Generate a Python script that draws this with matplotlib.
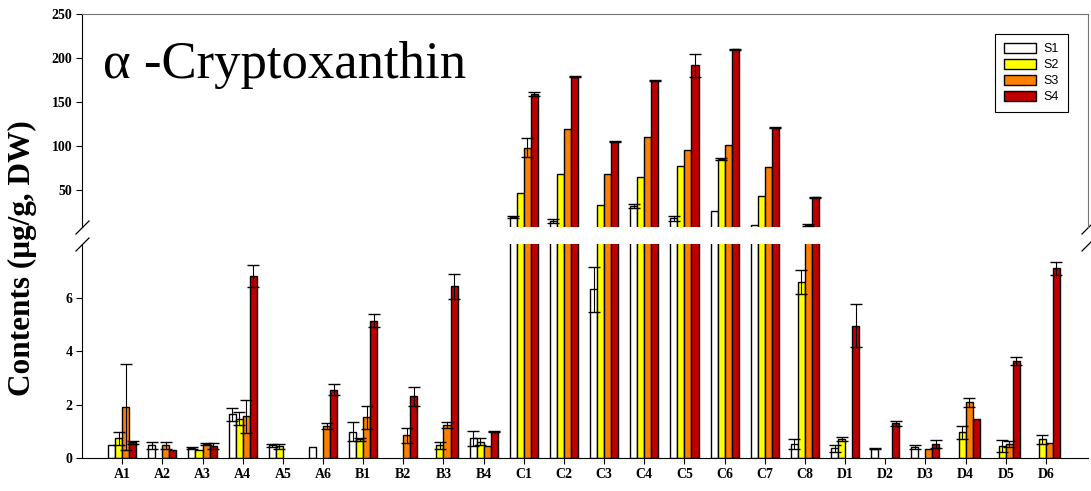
import numpy as np
import matplotlib.pyplot as plt

# Categories and series values (ug/g DW); 0 = not detected
samples = ['A1', 'A2', 'A3', 'A4', 'A5', 'A6', 'B1', 'B2', 'B3', 'B4',
           'C1', 'C2', 'C3', 'C4', 'C5', 'C6', 'C7', 'C8',
           'D1', 'D2', 'D3', 'D4', 'D5', 'D6']
series = ['S1', 'S2', 'S3', 'S4']

s1 = [0.47, 0.47, 0.38, 1.63, 0.47, 0.42, 0.98, 0, 0, 0.73,
      19.5, 15.0, 6.3, 31.8, 17.8, 26.5, 9.8, 0.52,
      0.37, 0.34, 0.42, 0, 0, 0]
s1_err = [0, 0.13, 0.04, 0.24, 0.07, 0, 0.36, 0, 0, 0.27,
          1.0, 2.2, 0.85, 2.5, 2.8, 0, 0, 0.18,
          0.13, 0.02, 0.08, 0, 0, 0]
s2 = [0.74, 0, 0.30, 1.47, 0.44, 0, 0.70, 0, 0.47, 0.61,
      47, 68.5, 33, 65, 77, 85, 43.6, 6.57,
      0.70, 0, 0, 0.96, 0.45, 0.70]
s2_err = [0.24, 0, 0, 0.25, 0.09, 0, 0.05, 0, 0.12, 0.13,
          0, 0, 0, 0, 0, 1.4, 0, 0.45,
          0.07, 0, 0, 0.25, 0.21, 0.17]
s3 = [1.9, 0.47, 0.52, 1.56, 0, 1.19, 1.52, 0.85, 1.24, 0.45,
      98, 119.7, 68, 109.8, 95.5, 101, 75.8, 10.5,
      0, 0, 0.32, 2.09, 0.52, 0.57]
s3_err = [1.6, 0.13, 0.05, 0.61, 0, 0.11, 0.43, 0.29, 0.11, 0,
          10.7, 0, 0, 0, 0, 0, 0, 1.0,
          0, 0, 0, 0.17, 0.12, 0]
s4 = [0.59, 0.30, 0.45, 6.8, 0, 2.56, 5.14, 2.31, 6.42, 0.99,
      159, 178.8, 105, 174, 191.7, 209.8, 120.8, 42,
      4.94, 1.30, 0.51, 1.47, 3.63, 7.1]
s4_err = [0.06, 0, 0.1, 0.4, 0, 0.19, 0.26, 0.36, 0.47, 0.03,
          2.5, 0.5, 0.5, 0.5, 13, 0.8, 0.5, 0.5,
          0.8, 0.1, 0.15, 0, 0.14, 0.24]

values = [s1, s2, s3, s4]
errors = [s1_err, s2_err, s3_err, s4_err]
colors = ['#FFFFFF', '#FFFF00', '#FF8000', '#C00000']

serif = 'Liberation Serif'
low_max, high_max = 8, 250

fig = plt.figure(figsize=(10.91, 4.91), dpi=100)
ax_top = fig.add_axes([0.0752, 0.5377, 0.9221, 0.4338])
ax_bot = fig.add_axes([0.0752, 0.0672, 0.9221, 0.4358])

x = np.arange(len(samples))
w = 0.175
offsets = [-1.5 * w, -0.5 * w, 0.5 * w, 1.5 * w]

for i in range(4):
    v = np.array(values[i], dtype=float)
    e = np.array(errors[i], dtype=float)
    # upper panel: only what rises above the break
    m = v > low_max
    ax_top.bar(x[m] + offsets[i], v[m], width=w, color=colors[i],
               edgecolor='black', linewidth=1.0, label=series[i], zorder=2)
    me = m & (e > 0)
    ax_top.errorbar(x[me] + offsets[i], v[me], yerr=e[me], fmt='none',
                    ecolor='black', elinewidth=0.8, capsize=4, capthick=1.0, zorder=3)
    # lower panel: bars above the break are cut at the panel top
    m = v > 0
    hb = np.minimum(v[m], low_max * 1.05)
    ax_bot.bar(x[m] + offsets[i], hb, width=w, color=colors[i],
               edgecolor='black', linewidth=1.0, zorder=2)
    me = (v > 0) & (v < low_max) & (e > 0)
    ax_bot.errorbar(x[me] + offsets[i], v[me], yerr=e[me], fmt='none',
                    ecolor='black', elinewidth=0.8, capsize=4, capthick=1.0, zorder=3)

for ax in (ax_top, ax_bot):
    ax.set_xlim(-1.0, 24.05)

ax_top.set_ylim(low_max, high_max)
ax_top.set_yticks([50, 100, 150, 200, 250])
ax_bot.set_ylim(0, low_max)
ax_bot.set_yticks([0, 2, 4, 6])

ax_top.set_xticks([])
ax_bot.set_xticks(x)
ax_bot.set_xticklabels(samples)

ax_top.spines['bottom'].set_visible(False)
ax_top.spines['top'].set_color('0.45')
ax_top.spines['right'].set_color('0.45')
ax_bot.spines['top'].set_visible(False)
ax_bot.spines['right'].set_visible(False)

for ax in (ax_top, ax_bot):
    ax.tick_params(axis='y', direction='out', length=4, width=0.8, pad=3)
    for lab in ax.get_yticklabels():
        lab.set_fontfamily(serif)
        lab.set_fontweight('bold')
        lab.set_fontsize(10)
ax_bot.tick_params(axis='x', direction='out', length=4, width=0.8, pad=3)
for lab in ax_bot.get_xticklabels():
    lab.set_fontfamily(serif)
    lab.set_fontweight('bold')
    lab.set_fontsize(10)

# break marks
kw = dict(marker=[(-1, -1), (1, 1)], markersize=10, linestyle='none',
          color='k', mec='k', mew=0.9, clip_on=False)
ax_top.plot([0, 1], [0, 0], transform=ax_top.transAxes, **kw)
ax_bot.plot([0, 1], [1, 1], transform=ax_bot.transAxes, **kw)

ax_top.text(0.021, 0.76, 'α -Cryptoxanthin', transform=ax_top.transAxes,
            fontfamily=serif, fontsize=38, va='center', ha='left')

fig.text(0.021, 0.475, 'Contents (μg/g, DW)', rotation=90, fontfamily=serif,
         fontweight='bold', fontsize=22.5, va='center', ha='center')

leg = ax_top.legend(loc='upper right', bbox_to_anchor=(0.98, 0.905), fancybox=False,
                    edgecolor='black', framealpha=1, handlelength=2.6, handleheight=0.85,
                    labelspacing=0.3, handletextpad=0.6, borderpad=0.7, borderaxespad=0,
                    prop={'family': 'Liberation Sans', 'size': 9})
leg.get_frame().set_linewidth(0.8)

plt.savefig('out.png', dpi=100)
